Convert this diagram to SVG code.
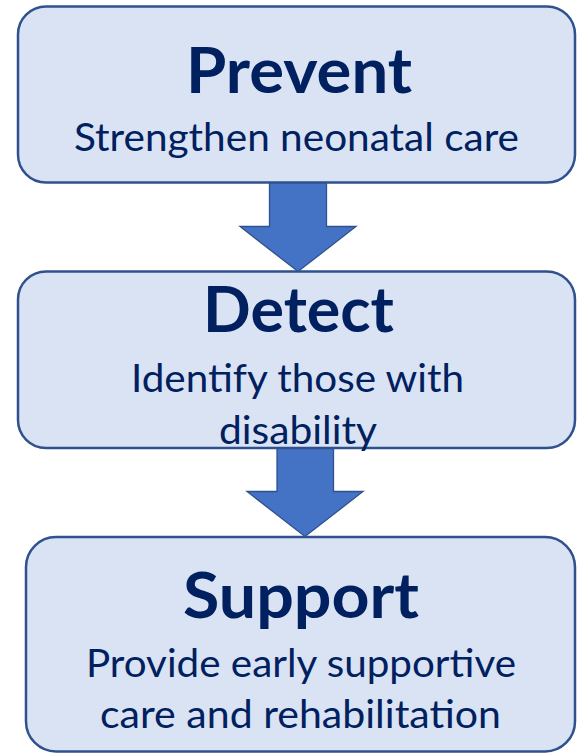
<svg xmlns="http://www.w3.org/2000/svg" width="578" height="753" viewBox="0 0 578 753">
  <style>
    .box { fill: #DAE3F3; stroke: #2F528F; stroke-width: 2.5; }
    .arrow { fill: #4472C4; stroke: #2F528F; stroke-width: 1.3; stroke-linejoin: miter; }
    .title { font-family: Lato, "Open Sans", sans-serif; font-weight: 700; font-size: 63px; fill: #002060; text-anchor: middle; }
    .sub { font-family: Lato, "Open Sans", sans-serif; font-weight: 400; font-size: 39px; fill: #002060; text-anchor: middle; }
  </style>
  <rect width="578" height="753" fill="#FFFFFF"/>

  <g id="node-prevent">
    <rect class="box" x="18" y="6.5" width="557" height="176" rx="28" ry="28"/>
    <text class="title" x="299" y="93" textLength="226" lengthAdjust="spacingAndGlyphs">Prevent</text>
    <text class="sub" x="296.5" y="150.5" textLength="445" lengthAdjust="spacingAndGlyphs">Strengthen neonatal care</text>
  </g>

  <g id="node-detect">
    <rect class="box" x="18" y="271.5" width="557" height="176.5" rx="28" ry="28"/>
    <text class="title" x="298.5" y="332" textLength="191" lengthAdjust="spacingAndGlyphs">Detect</text>
    <text class="sub" x="297.5" y="391.5" textLength="333" lengthAdjust="spacingAndGlyphs">Identify those with</text>
    <text class="sub" x="298" y="443.5" textLength="158" lengthAdjust="spacingAndGlyphs">disability</text>
  </g>

  <g id="node-support">
    <rect class="box" x="26" y="537" width="549" height="214.5" rx="30" ry="30"/>
    <text class="title" x="301" y="618" textLength="236" lengthAdjust="spacingAndGlyphs">Support</text>
    <text class="sub" x="301" y="677" textLength="430" lengthAdjust="spacingAndGlyphs">Provide early supportive</text>
    <text class="sub" x="300.5" y="728" textLength="401" lengthAdjust="spacingAndGlyphs">care and rehabilitation</text>
  </g>

  <g id="connectors">
    <polygon class="arrow" points="269.5,183 326.5,183 326.5,226.5 356,226.5 298,271.5 240,226.5 269.5,226.5"/>
    <polygon class="arrow" points="277,448.5 333.5,448.5 333.5,491.5 363,491.5 305,536.5 247,491.5 277,491.5"/>
  </g>
</svg>
